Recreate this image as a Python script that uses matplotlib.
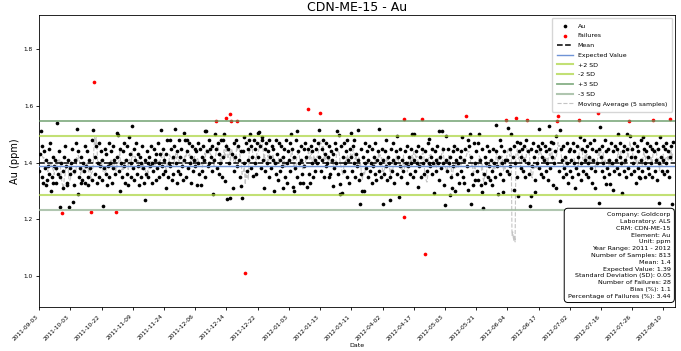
import matplotlib
matplotlib.use("Agg")
import matplotlib.pyplot as plt
import numpy as np
import pandas as pd

# --- data (one value per sample, in order) ---
au_values = [
    1.37, 1.43, 1.51, 1.35, 1.46, 1.33, 1.44, 1.38, 1.32, 1.41, 1.34, 1.39, 1.45, 1.36, 1.47, 1.30, 1.35, 1.42, 1.33, 1.39,
    1.41, 1.33, 1.38, 1.54, 1.36, 1.44, 1.35, 1.245, 1.40, 1.222, 1.37, 1.31, 1.42, 1.46, 1.39, 1.32, 1.33, 1.41, 1.243, 1.38,
    1.36, 1.40, 1.45, 1.26, 1.37, 1.32, 1.41, 1.47, 1.52, 1.29, 1.44, 1.35, 1.38, 1.33, 1.42, 1.34, 1.40, 1.37, 1.46, 1.33,
    1.39, 1.44, 1.35, 1.32, 1.41, 1.38, 1.228, 1.48, 1.34, 1.516, 1.685, 1.42, 1.36, 1.46, 1.33, 1.40, 1.47, 1.35, 1.39, 1.44,
    1.34, 1.41, 1.248, 1.38, 1.45, 1.36, 1.43, 1.32, 1.39, 1.47, 1.35, 1.40, 1.44, 1.33, 1.38, 1.46, 1.41, 1.36, 1.228, 1.504,
    1.42, 1.496, 1.37, 1.45, 1.30, 1.40, 1.35, 1.44, 1.39, 1.47, 1.33, 1.41, 1.46, 1.36, 1.32, 1.49, 1.43, 1.35, 1.40, 1.53,
    1.38, 1.45, 1.34, 1.41, 1.47, 1.36, 1.43, 1.39, 1.32, 1.42, 1.40, 1.35, 1.46, 1.38, 1.33, 1.41, 1.27, 1.36, 1.44, 1.40,
    1.35, 1.42, 1.39, 1.46, 1.33, 1.40, 1.37, 1.45, 1.41, 1.34, 1.43, 1.38, 1.47, 1.35, 1.40, 1.43, 1.515, 1.39, 1.45, 1.36,
    1.41, 1.37, 1.31, 1.43, 1.48, 1.35, 1.40, 1.48, 1.39, 1.45, 1.34, 1.42, 1.36, 1.46, 1.52, 1.40, 1.33, 1.44, 1.37, 1.48,
    1.42, 1.36, 1.45, 1.39, 1.34, 1.504, 1.41, 1.48, 1.35, 1.48, 1.44, 1.38, 1.47, 1.40, 1.33, 1.42, 1.46, 1.37, 1.41, 1.45,
    1.39, 1.44, 1.32, 1.47, 1.40, 1.36, 1.45, 1.32, 1.42, 1.37, 1.46, 1.41, 1.51, 1.35, 1.51, 1.44, 1.39, 1.48, 1.40, 1.45,
    1.42, 1.37, 1.46, 1.29, 1.41, 1.50, 1.45, 1.548, 1.38, 1.47, 1.36, 1.43, 1.40, 1.48, 1.35, 1.42, 1.48, 1.50, 1.334, 1.46,
    1.556, 1.272, 1.45, 1.40, 1.57, 1.277, 1.548, 1.43, 1.31, 1.47, 1.37, 1.42, 1.48, 1.548, 1.39, 1.46, 1.41, 1.35, 1.44, 1.318,
    1.277, 1.44, 1.40, 1.49, 1.01, 1.47, 1.37, 1.45, 1.41, 1.48, 1.50, 1.38, 1.46, 1.42, 1.354, 1.48, 1.40, 1.45, 1.36, 1.47,
    1.504, 1.42, 1.507, 1.46, 1.38, 1.48, 1.49, 1.41, 1.31, 1.45, 1.37, 1.47, 1.40, 1.44, 1.35, 1.48, 1.42, 1.38, 1.46, 1.41,
    1.45, 1.30, 1.40, 1.48, 1.36, 1.43, 1.34, 1.47, 1.41, 1.37, 1.46, 1.39, 1.42, 1.31, 1.45, 1.35, 1.48, 1.40, 1.33, 1.44,
    1.41, 1.47, 1.37, 1.50, 1.45, 1.313, 1.30, 1.42, 1.38, 1.48, 1.51, 1.35, 1.44, 1.40, 1.33, 1.46, 1.41, 1.36, 1.33, 1.45,
    1.39, 1.47, 1.42, 1.313, 1.45, 1.588, 1.36, 1.33, 1.46, 1.40, 1.44, 1.35, 1.48, 1.41, 1.37, 1.45, 1.40, 1.47, 1.515, 1.42,
    1.574, 1.37, 1.45, 1.41, 1.48, 1.35, 1.43, 1.39, 1.47, 1.40, 1.42, 1.35, 1.46, 1.36, 1.44, 1.41, 1.318, 1.43, 1.38, 1.47,
    1.40, 1.45, 1.51, 1.36, 1.496, 1.288, 1.324, 1.46, 1.292, 1.42, 1.37, 1.47, 1.40, 1.44, 1.35, 1.48, 1.41, 1.33, 1.45, 1.505,
    1.42, 1.37, 1.46, 1.48, 1.40, 1.35, 1.43, 1.39, 1.515, 1.41, 1.34, 1.255, 1.45, 1.36, 1.30, 1.42, 1.30, 1.40, 1.47, 1.38,
    1.44, 1.35, 1.41, 1.46, 1.37, 1.40, 1.33, 1.45, 1.39, 1.42, 1.36, 1.47, 1.34, 1.41, 1.44, 1.52, 1.37, 1.40, 1.35, 1.45,
    1.255, 1.41, 1.36, 1.44, 1.48, 1.39, 1.34, 1.42, 1.40, 1.35, 1.27, 1.45, 1.37, 1.41, 1.47, 1.33, 1.40, 1.44, 1.495, 1.36,
    1.42, 1.278, 1.39, 1.45, 1.35, 1.41, 1.37, 1.554, 1.208, 1.44, 1.40, 1.33, 1.46, 1.39, 1.42, 1.36, 1.45, 1.40, 1.50, 1.35,
    1.50, 1.41, 1.37, 1.44, 1.40, 1.46, 1.313, 1.39, 1.42, 1.35, 1.45, 1.554, 1.40, 1.36, 1.078, 1.44, 1.41, 1.37, 1.47, 1.40,
    1.484, 1.39, 1.42, 1.36, 1.45, 1.40, 1.295, 1.44, 1.41, 1.37, 1.46, 1.40, 1.34, 1.51, 1.42, 1.38, 1.51, 1.45, 1.40, 1.32,
    1.25, 1.495, 1.41, 1.37, 1.45, 1.40, 1.287, 1.42, 1.35, 1.31, 1.44, 1.39, 1.46, 1.30, 1.41, 1.36, 1.45, 1.40, 1.33, 1.42,
    1.37, 1.44, 1.49, 1.35, 1.41, 1.33, 1.45, 1.565, 1.39, 1.48, 1.304, 1.46, 1.50, 1.255, 1.42, 1.36, 1.32, 1.47, 1.40, 1.34,
    1.44, 1.37, 1.47, 1.34, 1.50, 1.41, 1.32, 1.298, 1.45, 1.239, 1.36, 1.42, 1.33, 1.40, 1.46, 1.35, 1.39, 1.44, 1.34, 1.41,
    1.37, 1.32, 1.45, 1.40, 1.35, 1.44, 1.534, 1.39, 1.29, 1.42, 1.48, 1.36, 1.46, 1.40, 1.34, 1.298, 1.44, 1.41, 1.55, 1.37,
    1.41, 1.522, 1.36, 1.45, 1.39, 1.50, 0.02, 1.42, 1.305, 1.46, 1.40, 1.559, 1.474, 1.35, 1.283, 1.44, 1.47, 1.38, 1.42, 1.45,
    1.37, 1.46, 1.41, 1.35, 1.48, 1.55, 1.40, 1.44, 1.36, 1.248, 1.45, 1.283, 1.39, 1.47, 1.42, 1.34, 1.298, 1.44, 1.40, 1.46,
    1.52, 1.38, 1.45, 1.36, 1.42, 1.47, 1.35, 1.41, 1.46, 1.37, 1.44, 1.40, 1.34, 1.529, 1.45, 1.38, 1.474, 1.42, 1.32, 1.47,
    1.40, 1.44, 1.494, 1.31, 1.548, 1.565, 1.37, 1.514, 1.264, 1.45, 1.41, 1.35, 1.46, 1.38, 1.42, 1.36, 1.47, 1.40, 1.33, 1.44,
    1.37, 1.45, 1.41, 1.35, 1.47, 1.40, 1.44, 1.31, 1.38, 1.46, 1.36, 1.42, 1.549, 1.49, 1.40, 1.34, 1.45, 1.37, 1.48, 1.41,
    1.44, 1.36, 1.46, 1.40, 1.35, 1.42, 1.47, 1.38, 1.45, 1.33, 1.41, 1.48, 1.37, 1.31, 1.44, 1.40, 1.574, 1.45, 1.257, 1.526,
    1.42, 1.37, 1.46, 1.40, 1.35, 1.48, 1.325, 1.44, 1.38, 1.45, 1.36, 1.41, 1.325, 1.47, 1.40, 1.304, 1.44, 1.37, 1.46, 1.41,
    1.38, 1.45, 1.50, 1.36, 1.42, 1.47, 1.40, 1.295, 1.44, 1.37, 1.46, 1.41, 1.35, 1.50, 1.45, 1.38, 1.548, 1.495, 1.42, 1.36,
    1.45, 1.40, 1.47, 1.37, 1.42, 1.33, 1.46, 1.38, 1.44, 1.35, 1.345, 1.48, 1.41, 1.37, 1.49, 1.45, 1.40, 1.35, 1.44, 1.47,
    1.38, 1.42, 1.36, 1.46, 1.40, 1.45, 1.35, 1.549, 1.44, 1.37, 1.47, 1.41, 1.34, 1.45, 1.40, 1.257, 1.49, 1.42, 1.37, 1.46,
    1.41, 1.36, 1.45, 1.40, 1.47, 1.37, 1.44, 1.35, 1.554, 1.42, 1.46, 1.253, 1.474,
]

# every 40th sample gets a date label
tick_dates = [
    "2011-09-03", "2011-10-03", "2011-10-22", "2011-11-09", "2011-11-24", "2011-12-06",
    "2011-12-14", "2011-12-22", "2012-01-03", "2012-01-13", "2012-03-11", "2012-04-02",
    "2012-04-17", "2012-05-03", "2012-05-21", "2012-06-04", "2012-06-17", "2012-07-02",
    "2012-07-16", "2012-07-26", "2012-08-10",
]

mean_value = 1.40
expected_value = 1.39
std_dev = 0.052

info_lines = [
    "Company: Goldcorp",
    "Laboratory: ALS",
    "CRM: CDN-ME-15",
    "Element: Au",
    "Unit: ppm",
    "Year Range: 2011 - 2012",
    "Number of Samples: 813",
    "Mean: 1.4",
    "Expected Value: 1.39",
    "Standard Deviation (SD): 0.05",
    "Number of Failures: 28",
    "Bias (%): 1.1",
    "Percentage of Failures (%): 3.44",
]

au = np.array(au_values)
assert len(au) == 813
x = np.arange(len(au))
upper3 = expected_value + 3 * std_dev
lower3 = expected_value - 3 * std_dev
fail = (au > upper3) | (au < lower3)
moving_avg = pd.Series(au).rolling(5).mean()

fig = plt.figure(figsize=(6.81, 3.51), dpi=100)
ax = fig.add_axes([0.0577, 0.124, 0.9335, 0.833])

ax.plot(x, moving_avg, color="#c4c4c4", linestyle="--", linewidth=0.8, zorder=1)
ax.scatter(x[~fail], au[~fail], s=7, color="black", linewidths=0, zorder=2, label="Au")
ax.scatter(x[fail], au[fail], s=7, color="red", linewidths=0, zorder=2, label="Failures")

ax.axhline(mean_value, color="black", linestyle="--", linewidth=1.1, zorder=3, label="Mean")
ax.axhline(expected_value, color="#6f93d6", linewidth=1.0, zorder=3, label="Expected Value")
ax.axhline(expected_value + 2 * std_dev, color="#a8d43a", linewidth=1.5, alpha=0.7, zorder=3, label="+2 SD")
ax.axhline(expected_value - 2 * std_dev, color="#a8d43a", linewidth=1.5, alpha=0.7, zorder=3, label="-2 SD")
ax.axhline(upper3, color="#5f965f", linewidth=1.3, alpha=0.75, zorder=3, label="+3 SD")
ax.axhline(lower3, color="#9cb89c", linewidth=1.5, alpha=0.8, zorder=3, label="-3 SD")
ax.plot([], [], color="#c4c4c4", linestyle="--", linewidth=0.8, label="Moving Average (5 samples)")

ax.set_xlim(0, 815)
ax.set_ylim(0.89, 1.92)
ax.set_yticks([1.0, 1.2, 1.4, 1.6, 1.8])
ax.set_xticks(np.arange(len(tick_dates)) * 40)
ax.set_xticklabels(tick_dates, rotation=45, ha="right")
ax.tick_params(labelsize=4.2, length=2.5, width=0.6, pad=2)
for s in ax.spines.values():
    s.set_linewidth(0.6)

ax.set_title("CDN-ME-15 - Au", fontsize=9, pad=3)
ax.set_ylabel("Au (ppm)", fontsize=7, labelpad=3)
ax.set_xlabel("Date", fontsize=4.5, labelpad=1)

ax.legend(loc="upper right", fontsize=4.5, frameon=True,
          borderpad=0.8, labelspacing=0.7, handlelength=2.5)

ax.text(0.993, 0.03, "\n".join(info_lines), transform=ax.transAxes, fontsize=4.6,
        ha="right", va="bottom", multialignment="right", linespacing=1.45, zorder=5,
        bbox=dict(boxstyle="round,pad=0.6", facecolor="white", edgecolor="black", linewidth=0.7))

fig.savefig("out.png", dpi=100)
